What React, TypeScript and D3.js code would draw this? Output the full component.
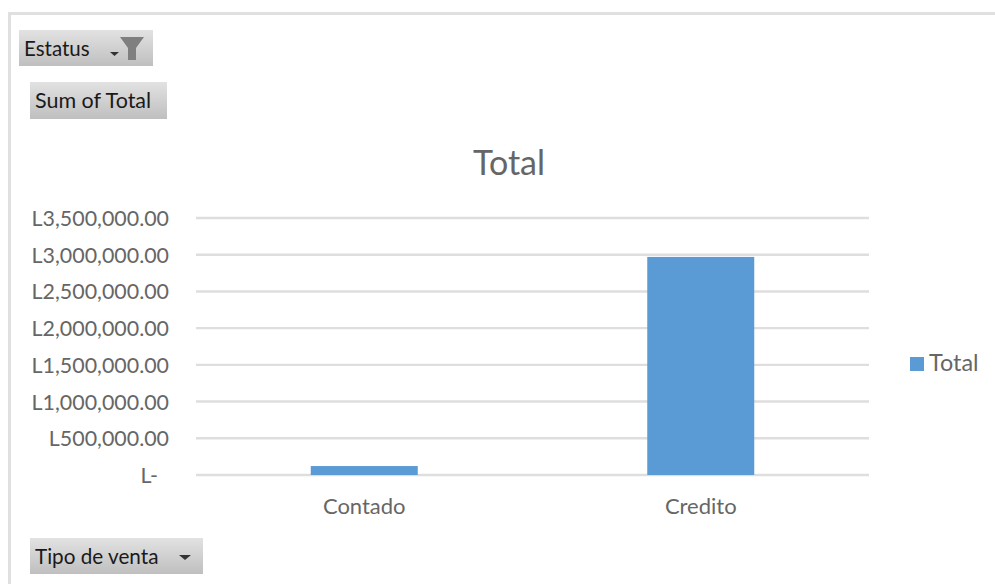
import React, { useEffect, useRef } from "react";
import * as d3 from "d3";

const categories = ["Contado", "Credito"];
const totals = [122000, 2970000];
const yTicks = [0, 500000, 1000000, 1500000, 2000000, 2500000, 3000000, 3500000];
const chartTitle = "Total";
const seriesName = "Total";

const FONT = "Lato, Carlito, Calibri, sans-serif";
const TEXT_GREY = "#666666";
const formatLempira = (v: number) => (v === 0 ? "L-" : "L" + d3.format(",.2f")(v));

type FieldButton = { label: string; x: number; y: number; w: number; h: number; arrowX: number; size: number };
const fieldButtons: FieldButton[] = [
  { label: "Estatus", x: 19, y: 30, w: 134, h: 36, arrowX: 115, size: 20.5 },
  { label: "Sum of Total", x: 30, y: 82, w: 137, h: 37, arrowX: -1, size: 21.5 },
  { label: "Tipo de venta", x: 30, y: 538, w: 173, h: 36, arrowX: 185, size: 20.7 },
];

export default function App() {
  const ref = useRef<SVGSVGElement>(null);

  useEffect(() => {
    const svg = d3.select(ref.current!);
    svg.selectAll("*").remove();

    const grad = svg.append("defs").append("linearGradient")
      .attr("id", "fieldFill").attr("x1", 0).attr("y1", 0).attr("x2", 0).attr("y2", 1);
    grad.append("stop").attr("offset", "0%").attr("stop-color", "#e2e2e2");
    grad.append("stop").attr("offset", "100%").attr("stop-color", "#bfbfbf");

    // Chart frame, open on the right and bottom edges of the view
    svg.append("path")
      .attr("d", "M9.5,584V13.5H995")
      .attr("fill", "none").attr("stroke", "#e0e0e0").attr("stroke-width", 3);

    const x = d3.scaleBand<string>().domain(categories).range([196, 869]);
    const y = d3.scaleLinear().domain([0, 3500000]).range([475, 218]);
    const barWidth = 107;

    svg.append("g").selectAll("line").data(yTicks).join("line")
      .attr("x1", 196).attr("x2", 869)
      .attr("y1", d => y(d)).attr("y2", d => y(d))
      .attr("stroke", "#dedede").attr("stroke-width", 2.4);

    svg.append("g").selectAll("text").data(yTicks).join("text")
      .attr("x", d => (d === 0 ? 158 : 169))
      .attr("y", d => y(d) + 8)
      .attr("text-anchor", "end")
      .attr("font-family", FONT).attr("font-size", 21.4).attr("fill", TEXT_GREY)
      .text(d => formatLempira(d));

    svg.append("g").selectAll("rect").data(categories).join("rect")
      .attr("x", d => x(d)! + x.bandwidth() / 2 - barWidth / 2)
      .attr("width", barWidth)
      .attr("y", (_, i) => y(totals[i]))
      .attr("height", (_, i) => y(0) - y(totals[i]))
      .attr("fill", "#5b9bd5");

    svg.append("g").selectAll("text").data(categories).join("text")
      .attr("x", d => x(d)! + x.bandwidth() / 2)
      .attr("y", 514)
      .attr("text-anchor", "middle")
      .attr("font-family", FONT).attr("font-size", 22).attr("fill", TEXT_GREY)
      .text(d => d);

    svg.append("text")
      .attr("x", 509).attr("y", 175).attr("text-anchor", "middle")
      .attr("font-family", FONT).attr("font-size", 34).attr("fill", TEXT_GREY)
      .text(chartTitle);

    // Legend
    svg.append("rect").attr("x", 910).attr("y", 357).attr("width", 14).attr("height", 14).attr("fill", "#5b9bd5");
    svg.append("text")
      .attr("x", 929).attr("y", 371)
      .attr("font-family", FONT).attr("font-size", 23.4).attr("fill", TEXT_GREY)
      .text(seriesName);

    // Pivot field buttons
    const buttons = svg.append("g").selectAll("g").data(fieldButtons).join("g");
    buttons.append("rect")
      .attr("x", d => d.x).attr("y", d => d.y).attr("width", d => d.w).attr("height", d => d.h)
      .attr("fill", "url(#fieldFill)");
    buttons.append("text")
      .attr("x", d => d.x + 5).attr("y", d => d.y + 26)
      .attr("font-family", FONT).attr("font-size", d => d.size).attr("fill", "#1a1a1a")
      .text(d => d.label);
    buttons.filter(d => d.arrowX > 0).append("path")
      .attr("d", d => d.label === "Estatus"
        ? `M${d.arrowX - 5},${d.y + 22}h9l-4.5,4z`
        : `M${d.arrowX - 6},${d.y + 17}h12l-6,5z`)
      .attr("fill", "#333");

    // Filter funnel on the first button
    svg.append("path")
      .attr("d", "M120,37H144L136,48V60H128V48Z")
      .attr("fill", "#7f7f7f");
  }, []);

  return (
    <svg
      ref={ref}
      width={995}
      height={584}
      style={{ position: "absolute", left: 0, top: 0, background: "#fff", display: "block" }}
    />
  );
}
